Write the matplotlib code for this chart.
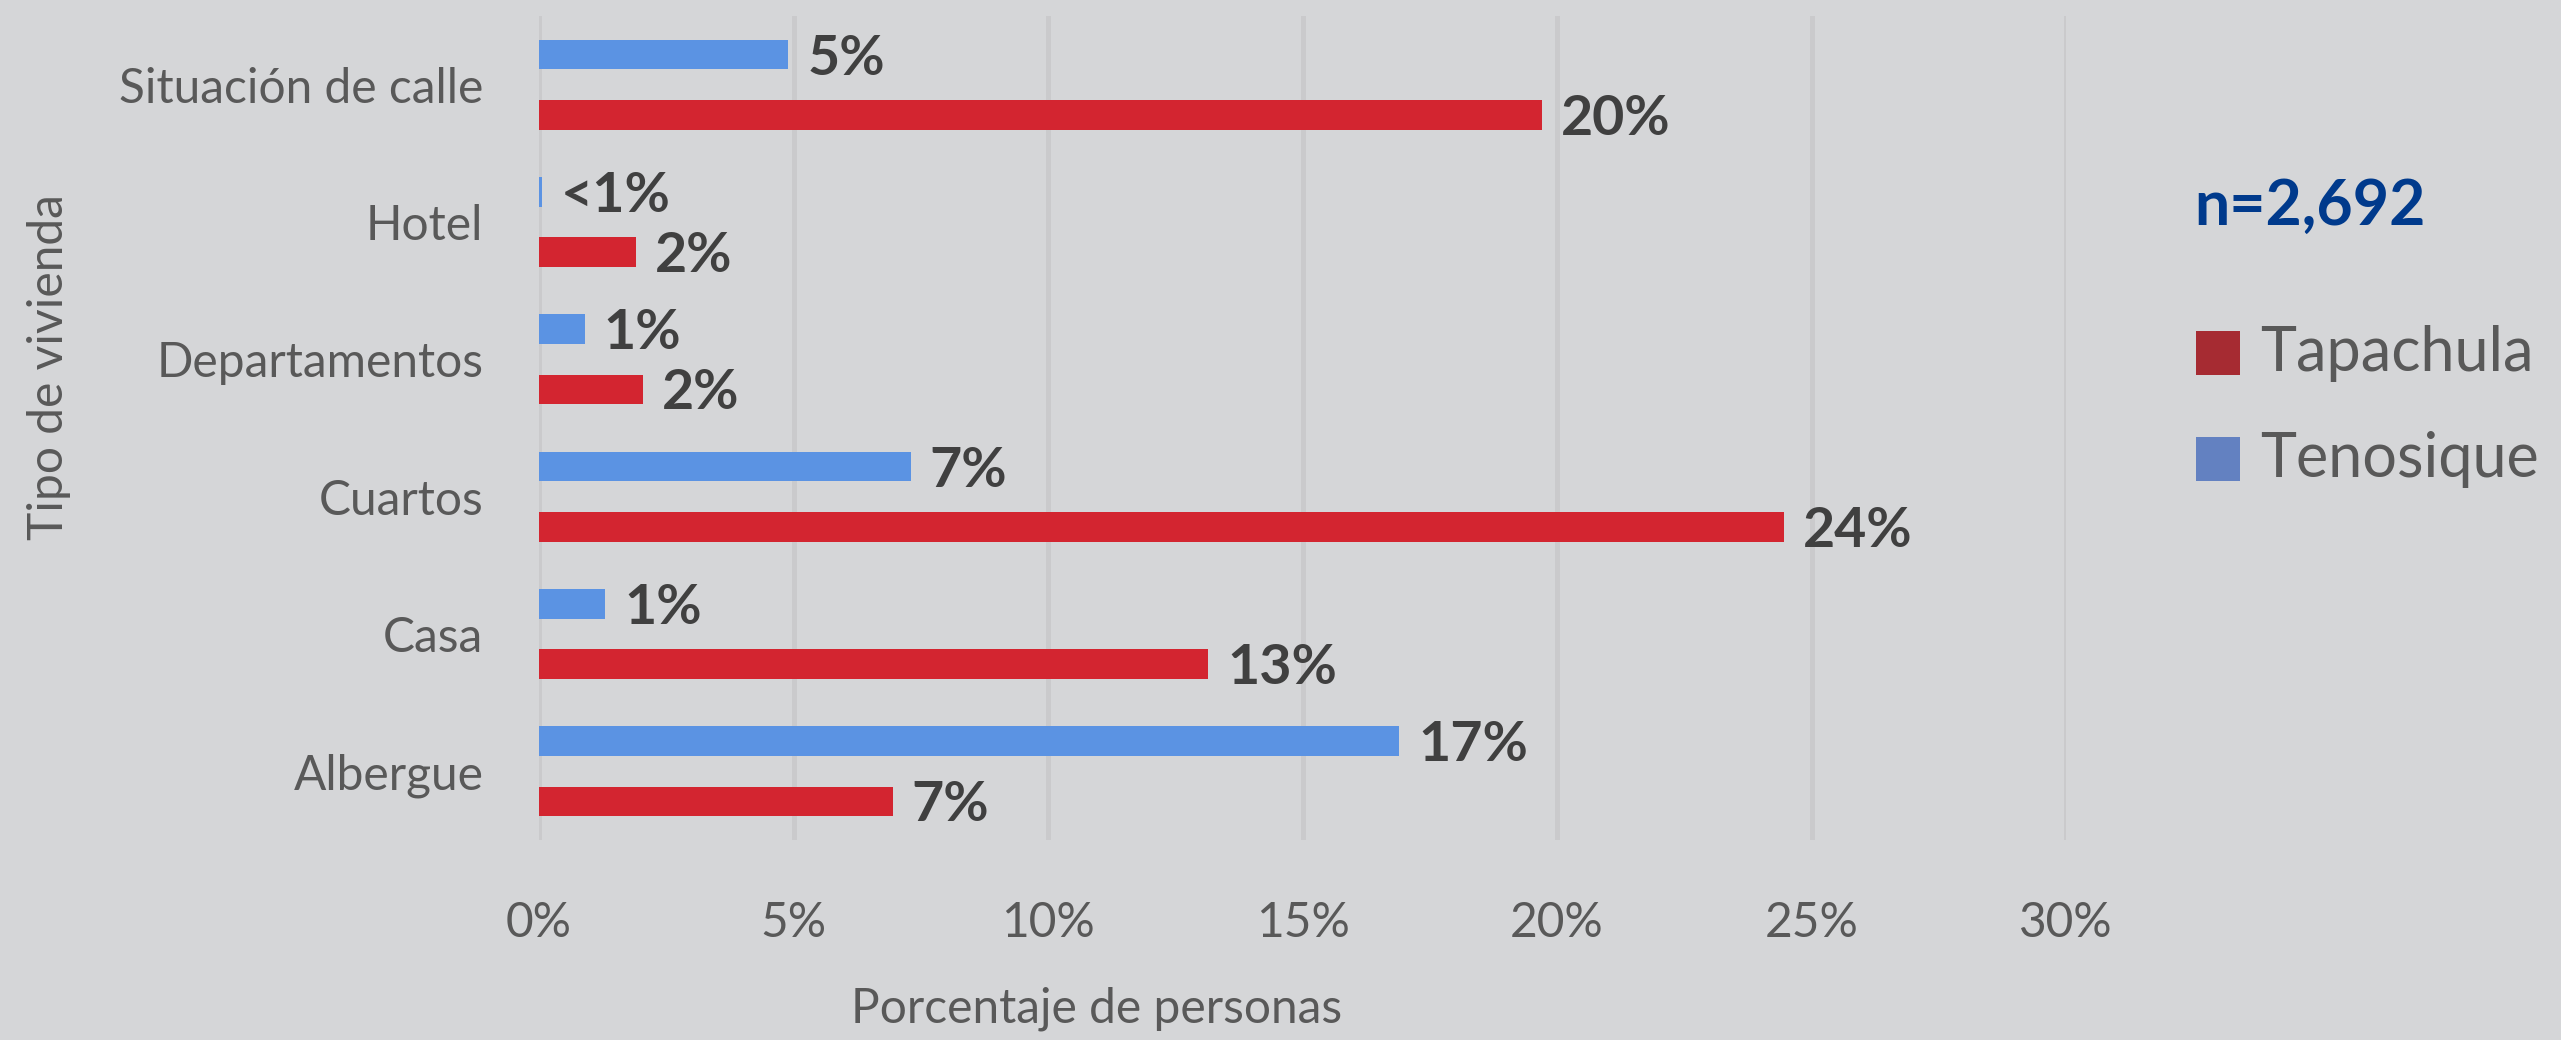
import matplotlib
matplotlib.use("Agg")
import matplotlib.pyplot as plt
from matplotlib.patches import Rectangle
import numpy as np

categories = ["Situación de calle", "Hotel", "Departamentos", "Cuartos", "Casa", "Albergue"]
tenosique = [4.9, 0.05, 0.9, 7.3, 1.3, 16.9]
tapachula = [19.7, 1.9, 2.05, 24.45, 13.15, 6.95]
tenosique_labels = ["5%", "<1%", "1%", "7%", "1%", "17%"]
tapachula_labels = ["20%", "2%", "2%", "24%", "13%", "7%"]
xticks = [0, 5, 10, 15, 20, 25, 30]
xtick_labels = ["0%", "5%", "10%", "15%", "20%", "25%", "30%"]

plt.rcParams['font.family'] = ['Lato', 'DejaVu Sans']
BG = "#D5D6D8"
W, H = 2561, 1040
fig = plt.figure(figsize=(W/100, H/100), dpi=100, facecolor=BG)
ax = fig.add_axes([539/W, 1-840/H, (2066-539)/W, (840-16)/H], facecolor=BG)

y = np.arange(len(categories))
bh = 0.215
off = 0.219
ax.barh(y - off, tenosique, height=bh, color="#5B93E3", zorder=3)
ax.barh(y + off, tapachula, height=bh, color="#D32530", zorder=3)

for yi, v, lab in zip(y, tenosique, tenosique_labels):
    ax.annotate(lab, (v, yi - off), xytext=(19, -4), textcoords='offset pixels',
                ha='left', va='center', fontsize=40, fontweight='bold', color="#404040")
for yi, v, lab in zip(y, tapachula, tapachula_labels):
    ax.annotate(lab, (v, yi + off), xytext=(19, -4), textcoords='offset pixels',
                ha='left', va='center', fontsize=40, fontweight='bold', color="#404040")

ax.set_xlim(0, 30)
ax.set_ylim(len(categories) - 0.5, -0.5)
ax.set_yticks(y)
ax.set_yticklabels(categories)
ax.set_xticks(xticks)
ax.set_xticklabels(xtick_labels)
ax.tick_params(axis='y', length=0, pad=40, labelsize=34.5, labelcolor="#595959")
ax.tick_params(axis='x', length=0, pad=44, labelsize=34.5, labelcolor="#595959")
ax.grid(axis='x', color="#CACACC", linewidth=3.6, zorder=0)
for s in ax.spines.values():
    s.set_visible(False)

fig.text(1097/W, 1-1009/H, "Porcentaje de personas", ha='center', va='center',
         fontsize=34.5, color="#595959")
fig.text(49/W, 1-367/H, "Tipo de vivienda", ha='center', va='center', rotation=90,
         fontsize=34.5, color="#595959")

# legend
fig.text(2194/W, 1-207/H, "n=2,692", ha='left', va='center', fontsize=45,
         fontweight='bold', color="#003A8C")
for yc, col, name in [(353, "#A62B32", "Tapachula"), (459, "#6381C1", "Tenosique")]:
    fig.add_artist(Rectangle((2196/W, 1-(yc+22)/H), 44/W, 44/H, transform=fig.transFigure,
                             facecolor=col, edgecolor='none'))
    fig.text(2260/W, 1-yc/H, name, ha='left', va='center', fontsize=44, color="#595959")

fig.savefig("out.png", dpi=100, facecolor=BG)
